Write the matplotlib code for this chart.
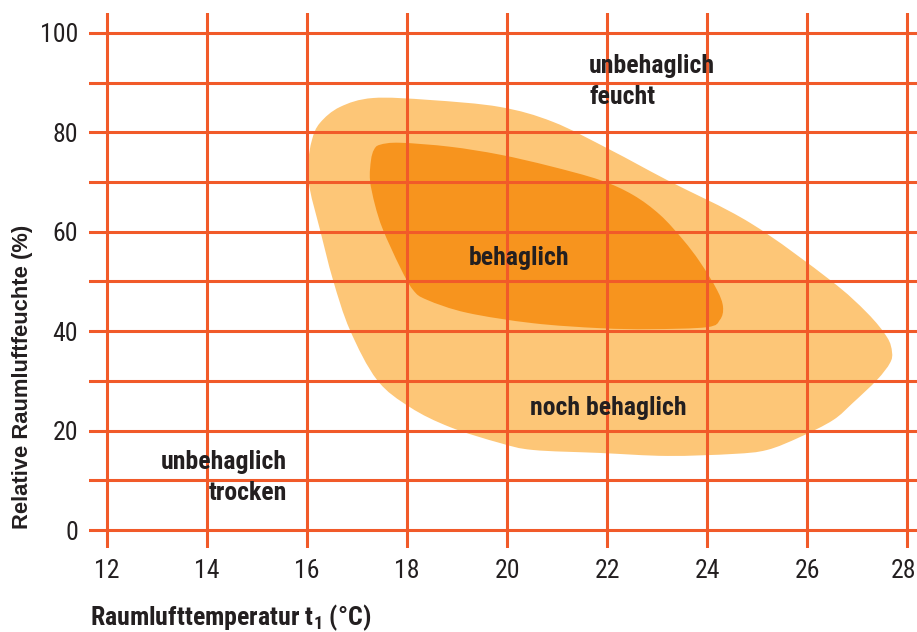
import numpy as np
import matplotlib
matplotlib.use("Agg")
import matplotlib.pyplot as plt
from matplotlib.path import Path
from matplotlib.patches import PathPatch
from matplotlib.transforms import ScaledTranslation
from matplotlib import font_manager

# Comfort zones: outline of room air temperature (°C) vs. relative humidity (%)
noch_behaglich_temp = [17.32, 18.46, 19.86, 20.92, 22.06, 23.20, 24.86, 26.46, 27.20, 27.60,
                       27.70, 27.66, 27.40, 26.92, 26.52, 25.86, 25.20, 24.52, 23.20, 21.86,
                       20.52, 19.86, 18.86, 18.06, 17.40, 16.86, 16.52, 16.26, 16.06, 16.02,
                       16.10, 16.26, 16.66]
noch_behaglich_rh = [86.9, 86.5, 85.1, 82.1, 76.5, 70.4, 61.8, 50.3, 43.7, 38.8,
                     35.8, 33.6, 30.2, 25.6, 22.1, 18.7, 16.1, 15.3, 14.9, 15.5,
                     16.1, 17.5, 20.7, 24.7, 30.2, 40.2, 50.3, 60.4, 68.4, 73.4,
                     78.5, 81.9, 85.1]

behaglich_temp = [17.46, 17.86, 18.86, 19.86, 20.86, 21.86, 22.52, 23.06, 23.52, 23.86,
                  24.20, 24.32, 24.26, 24.00, 22.86, 21.86, 20.52, 19.20, 18.40, 18.12,
                  17.86, 17.52, 17.36, 17.26, 17.28, 17.34]
behaglich_rh = [77.5, 77.9, 77.1, 75.5, 73.2, 70.4, 67.4, 63.4, 58.4, 53.9,
                48.3, 44.9, 42.3, 40.8, 40.4, 40.6, 41.6, 43.7, 46.3, 48.3,
                52.9, 60.4, 65.4, 70.4, 74.4, 76.5]

x_ticks = [12, 14, 16, 18, 20, 22, 24, 26, 28]
y_ticks = [0, 20, 40, 60, 80, 100]
y_grid = [0, 10, 20, 30, 40, 50, 60, 70, 80, 90, 100]

GRID = '#F15A29'
LIGHT = '#FDC677'
DARK = '#F7941E'
TEXT = '#231F20'

# Narrow sans face for labels; scale sizes down if only a regular-width face exists
installed = {f.name for f in font_manager.fontManager.ttflist}
if 'Roboto Condensed' in installed:
    NARROW, WSCALE = 'Roboto Condensed', 1.0
elif 'Liberation Sans Narrow' in installed:
    NARROW, WSCALE = 'Liberation Sans Narrow', 1.0
else:
    NARROW, WSCALE = 'Liberation Sans', 0.84

plt.rcParams['font.family'] = [NARROW, 'DejaVu Sans']
plt.rcParams['mathtext.default'] = 'regular'


def smooth_closed(xs, ys):
    """Closed Catmull-Rom outline converted to cubic Bezier segments."""
    pts = np.column_stack([xs, ys])
    n = len(pts)
    verts = [pts[0]]
    codes = [Path.MOVETO]
    for i in range(n):
        p0, p1, p2, p3 = pts[i - 1], pts[i], pts[(i + 1) % n], pts[(i + 2) % n]
        verts += [p1 + (p2 - p0) / 6.0, p2 - (p3 - p1) / 6.0, p2]
        codes += [Path.CURVE4] * 3
    return Path(verts, codes)


fig = plt.figure(figsize=(9.17, 6.32), dpi=100)
W, H = 917, 632
ax = fig.add_axes([89 / W, 84 / H, 828 / W, 535 / H])
ax.set_xlim(11.64, 28.2)
ax.set_ylim(-3.62, 104.0)
for s in ax.spines.values():
    s.set_visible(False)

ax.add_patch(PathPatch(smooth_closed(noch_behaglich_temp, noch_behaglich_rh),
                       facecolor=LIGHT, edgecolor='none', zorder=1))
ax.add_patch(PathPatch(smooth_closed(behaglich_temp, behaglich_rh),
                       facecolor=DARK, edgecolor='none', zorder=2))

for x in x_ticks:
    ax.axvline(x, color=GRID, lw=2.2, zorder=3)
for y in y_grid:
    ax.axhline(y, color=GRID, lw=2.2, zorder=3)

ax.set_xticks(x_ticks)
ax.set_yticks(y_ticks)
ax.tick_params(axis='both', length=0, labelsize=18.5 * WSCALE, labelcolor=TEXT)
ax.tick_params(axis='x', pad=8)
ax.tick_params(axis='y', pad=8)

# keep the last temperature label inside the canvas
fig.canvas.draw()
last = ax.get_xticklabels()[-1]
last.set_transform(last.get_transform() + ScaledTranslation(-4 / 100, 0, fig.dpi_scale_trans))

lab = dict(fontsize=18.5 * WSCALE, fontweight='bold', color=TEXT, zorder=5)
ax.text(21.64, 93.4, 'unbehaglich', ha='left', va='center', **lab)
ax.text(21.64, 87.1, 'feucht', ha='left', va='center', **lab)
ax.text(20.24, 54.7, 'behaglich', ha='center', va='center', **lab)
ax.text(22.02, 24.5, 'noch behaglich', ha='center', va='center', **lab)
ax.text(15.6, 13.7, 'unbehaglich', ha='right', va='center', **lab)
ax.text(15.6, 7.4, 'trocken', ha='right', va='center', **lab)

fig.text(90 / W, 1 - 618 / H, r'Raumlufttemperatur t$_1$ (°C)',
         ha='left', va='center', fontsize=18.6 * WSCALE, fontweight='bold', color=TEXT)
fig.text(23 / W, 1 - 377 / H, 'Relative Raumluftfeuchte (%)', rotation=90,
         ha='center', va='center', fontsize=15.8, fontweight='bold', color=TEXT,
         family=['Liberation Sans', 'DejaVu Sans'])

fig.savefig('out.png', dpi=100)
